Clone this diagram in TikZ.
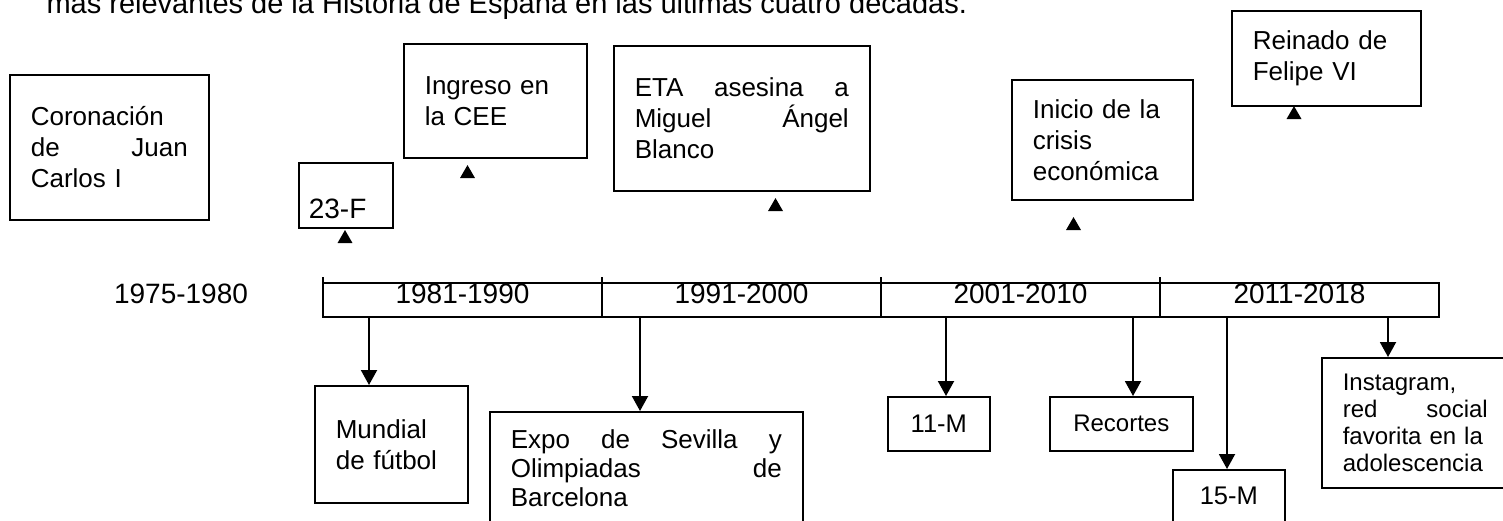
\documentclass[tikz,border=0pt]{standalone}
\usepackage{fontspec}
\setmainfont{Liberation Sans}
\usetikzlibrary{positioning, shapes, arrows.meta}
\tikzset{
        >={Triangle[width=16pt,length=15pt]}, % solid arrow heads
        every node/.style={font=\fontsize{26}{31}\selectfont}, % text size of the boxes
    }
\tikzset{
      event box/.style={
		draw,
		line width=1.6pt,
		anchor=north west,
		inner xsep=21pt,
		text width={#1},
		align=left,
	  },
      small box/.style={
		draw,
		line width=1.6pt,
		anchor=north west,
		inner sep=0pt,
	  },
      decade/.style={
		draw,
		line width=1.3pt,
		outer sep=0pt,
		inner sep=0pt,
		minimum width=279pt,
		minimum height=34pt,
		text height=20pt,
		text depth=14pt,
		font=\fontsize{28}{32}\selectfont,
	  },
  		tip mark/.style={
    	regular polygon, regular polygon sides=3,
    	fill=black, inner sep=0pt, minimum size=17.3pt,
      },
  		link/.style={->, line width=2pt},
  	}
\begin{document}
\begin{tikzpicture}[x=1pt, y=-1pt, node distance=0pt]
    \useasboundingbox (0,0) rectangle (1503,520);
    \clip (0,0) rectangle (1503,520);
    \node [anchor=base west, font=\fontsize{29}{34}\selectfont] (title) at (43,13) {más relevantes de la Historia de España en las últimas cuatro décadas.};

    % timeline
    \node [anchor=base, font=\fontsize{28}{32}\selectfont] (d0) at (181,303) {1975-1980};
    \node [decade, anchor=north west] (d1) at (323,283) {1981-1990};
    \node [decade, right=of d1] (d2) {1991-2000};
    \node [decade, right=of d2] (d3) {2001-2010};
    \node [decade, right=of d3] (d4) {2011-2018};
    \foreach \d in {d1,d2,d3,d4}
        \draw [line width=1.3pt] (\d.north west) -- ++(0,-6);

    % events above
    \node [event box=157pt, minimum height=145pt] (e1) at (9,74) {Coronación\\ de\hfill Juan\\ Carlos I};
    \node [event box=74pt, inner xsep=10pt, minimum height=65pt, text height=47pt, text depth=0pt,
           font=\fontsize{28}{32}\selectfont] (e2) at (298,162) {23-F};
    \node [event box=141pt, minimum height=114pt] (e3) at (403,43) {Ingreso en\\ la CEE};
    \node [event box=214pt, minimum height=145pt] (e4) at (613,45) {ETA\hfill asesina\hfill a\\ Miguel\hfill Ángel\\ Blanco};
    \node [event box=139pt, minimum height=120pt] (e5) at (1011,79) {Inicio de la\\ crisis\\ económica};
    \node [event box=147pt, minimum height=95pt] (e6) at (1231,10) {Reinado de\\ Felipe VI};

    \node [tip mark] (t2) at (345,238.7) {};
    \node [tip mark] (t3) at (467.5,173.7) {};
    \node [tip mark] (t4) at (775.5,206.7) {};
    \node [tip mark] (t5) at (1073.5,225.7) {};
    \node [tip mark] (t6) at (1294,114.7) {};

    % events below
    \node [event box=111pt, minimum height=117pt] (e7) at (314,385) {Mundial\\ de fútbol};
    \node [event box=271pt, inner ysep=18pt, font=\fontsize{26}{29}\selectfont] (e8) at (489,411)
          {Expo\hfill de\hfill Sevilla\hfill y\\ Olimpiadas\hfill de\\ Barcelona};
    \node [small box, minimum width=102pt, minimum height=54pt, font=\fontsize{25.5}{30}\selectfont] (e9) at (887,396) {11-M};
    \node [small box, minimum width=143pt, minimum height=54pt, font=\fontsize{24}{28}\selectfont] (e10) at (1049,396) {Recortes};
    \node [small box, minimum width=112pt, inner ysep=17pt, text depth=12pt, font=\fontsize{25.5}{30}\selectfont] (e11) at (1172,469) {15-M};
    \node [event box=166pt, minimum height=130pt, font=\fontsize{24}{27}\selectfont] (e12) at (1321,357)
          {Instagram,\\ red\hfill social\rule{21pt}{0pt}\\ favorita en la\\ adolescencia};

    \coordinate (x7) at (369,0);
    \coordinate (x8) at (640,0);
    \coordinate (x9) at (946,0);
    \coordinate (x10) at (1133,0);
    \coordinate (x11) at (1227,0);
    \coordinate (x12) at (1388,0);
    \draw [link] (d1.south -| x7) -- (e7.north -| x7);
    \draw [link] (d2.south -| x8) -- (e8.north -| x8);
    \draw [link] (d3.south -| x9) -- (e9.north -| x9);
    \draw [link] (d3.south -| x10) -- (e10.north -| x10);
    \draw [link] (d4.south -| x11) -- (e11.north -| x11);
    \draw [link] (d4.south -| x12) -- (e12.north -| x12);
  \end{tikzpicture}
\end{document}
